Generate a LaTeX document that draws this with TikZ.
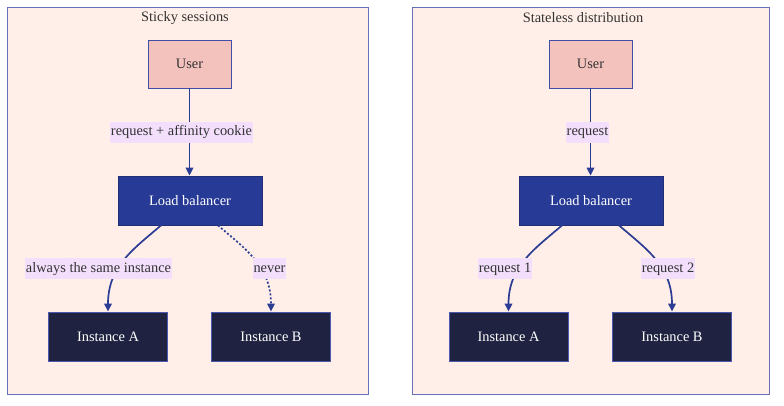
\documentclass[tikz,border=0pt]{standalone}
\usepackage{fontspec}
\setmainfont{Liberation Serif}
\usetikzlibrary{arrows.meta,calc}
\definecolor{clfill}{HTML}{FFEFE8}
\definecolor{clborder}{HTML}{6470BA}
\definecolor{userfill}{HTML}{F4C2BD}
\definecolor{nodeborder}{HTML}{3F4FA8}
\definecolor{lbfill}{HTML}{273A95}
\definecolor{instfill}{HTML}{1F2240}
\definecolor{instborder}{HTML}{4A5AB0}
\definecolor{edgecol}{HTML}{2B3C94}
\definecolor{lblfill}{HTML}{F3DFFC}
\definecolor{txt}{HTML}{333333}
\tikzset{
  basefont/.style={font=\fontsize{14.4}{16}\selectfont},
  cluster/.style={draw=clborder, fill=clfill, line width=0.9pt},
  ctitle/.style={basefont, text=txt, inner sep=0pt},
  userbox/.style={draw=nodeborder, fill=userfill, line width=0.9pt, minimum width=83pt, minimum height=48pt, basefont, text=txt, inner sep=0pt},
  lbbox/.style={draw=lbfill!80!black, fill=lbfill, line width=0.8pt, minimum width=144pt, minimum height=49pt, basefont, text=white, inner sep=0pt},
  instbox/.style={draw=instborder, fill=instfill, line width=0.9pt, minimum width=119pt, minimum height=49pt, basefont, text=white, inner sep=0pt},
  elabel/.style={fill=lblfill, basefont, text=txt, inner sep=1pt, text height=11pt, text depth=4pt, minimum height=21pt},
  conn/.style={draw=edgecol, line width=1.7pt, -{Triangle[length=8pt,width=7.5pt]}},
  dotconn/.style={conn, dash pattern=on 2pt off 2pt},
}
\begin{document}
\begin{tikzpicture}[x=1pt,y=-1pt]
\useasboundingbox (0,0) rectangle (784,406);
\fill[white] (0,0) rectangle (784,406);
% clusters
\draw[cluster] (7,7) rectangle (368,394);
\draw[cluster] (412,7) rectangle (769,394);
\node[ctitle] (t1) at (185,18) {Sticky sessions};
\node[ctitle] (t2) at (583,18) {Stateless distribution};
% left nodes
\node[userbox] (u1) at (189.5,64) {User};
\node[lbbox] (lb1) at (190,200.5) {Load balancer};
\node[instbox] (a1) at (108,336.5) {Instance A};
\node[instbox] (b1) at (271,336.5) {Instance B};
% right nodes
\node[userbox] (u2) at (590.5,64) {User};
\node[lbbox] (lb2) at (591,200.5) {Load balancer};
\node[instbox] (a2) at (508.5,336.5) {Instance A};
\node[instbox] (b2) at (672,336.5) {Instance B};
% left edges
\draw[conn] (u1.south) -- (u1.south |- lb1.north);
\draw[conn] ($(lb1.south)+(-29,0)$) .. controls +(-28,24) and +(0,-45) .. (a1.north);
\draw[dotconn] ($(lb1.south)+(28,0)$) .. controls +(28,24) and +(0,-45) .. (b1.north);
\node[elabel] (l1) at (181.5,132.5) {request + affinity cookie};
\node[elabel] (l2) at (98.5,268.5) {always the same instance};
\node[elabel] (l3) at (269.5,268.5) {never};
% right edges
\draw[conn] (u2.south) -- (u2.south |- lb2.north);
\draw[conn] ($(lb2.south)+(-29,0)$) .. controls +(-28,24) and +(0,-45) .. (a2.north);
\draw[conn] ($(lb2.south)+(28,0)$) .. controls +(28,24) and +(0,-45) .. (b2.north);
\node[elabel] (l4) at (587.5,132.5) {request};
\node[elabel] (l5) at (505,268.5) {request 1};
\node[elabel] (l6) at (668,268.5) {request 2};
\end{tikzpicture}
\end{document}
